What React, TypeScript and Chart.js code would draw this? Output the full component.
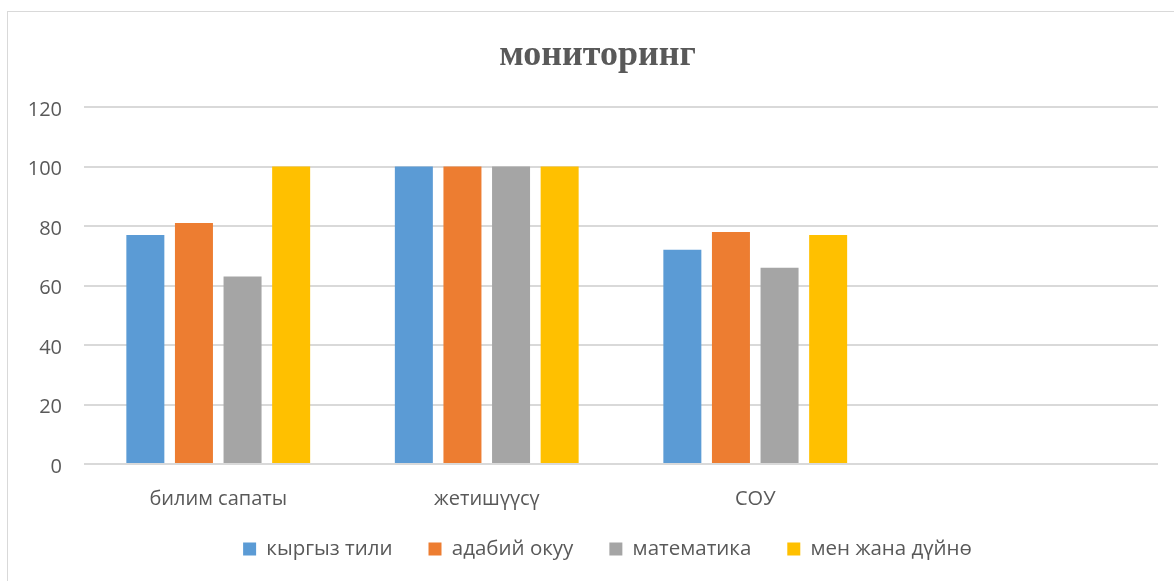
import React, { useEffect, useRef } from "react";
import { Chart, registerables } from "chart.js";

Chart.register(...registerables);

const categories = ["билим сапаты", "жетишүүсү", "СОУ", ""];
const seriesNames = ["кыргыз тили", "адабий окуу", "математика", "мен жана дүйнө"];
const kyrgyzTili = [77, 100, 72, null];
const adabiyOkuu = [81, 100, 78, null];
const matematika = [63, 100, 66, null];
const menJanaDuino = [100, 100, 77, null];
const seriesColors = ["#5B9BD5", "#ED7D31", "#A5A5A5", "#FFC000"];
const yTicks = { min: 0, max: 120, step: 20 };
const titleText = "мониторинг";

const FONT = "'Open Sans', 'Noto Sans', sans-serif";
const TEXT = "#595959";

const shiftBoxes = {
  id: "shiftBoxes",
  afterLayout(chart: any) {
    const t = chart.titleBlock;
    if (t) {
      t.left += 18.5;
      t.right += 18.5;
    }
    const l = chart.legend;
    if (l) {
      l.left += 28.5;
      l.right += 28.5;
      l.top -= 9.25;
      l.bottom -= 9.25;
    }
  },
};

export default function App() {
  const ref = useRef<HTMLCanvasElement | null>(null);
  useEffect(() => {
    if (!ref.current) return;
    const values = [kyrgyzTili, adabiyOkuu, matematika, menJanaDuino];
    const chart = new Chart(ref.current, {
      type: "bar",
      data: {
        labels: categories,
        datasets: seriesNames.map((name, i) => ({
          label: name,
          data: values[i] as any,
          backgroundColor: seriesColors[i],
          borderWidth: 0,
          categoryPercentage: 0.724,
          barPercentage: 0.782,
        })),
      },
      options: {
        responsive: false,
        animation: false,
        layout: { padding: { left: 0, right: 16, top: 0, bottom: 2.5 } },
        plugins: {
          tooltip: { enabled: false },
          title: {
            display: true,
            text: titleText,
            color: TEXT,
            font: { family: "'Liberation Serif', 'DejaVu Serif', serif", size: 36, weight: "bold" },
            padding: { top: 34, bottom: 29.8 },
          },
          legend: {
            position: "bottom",
            labels: {
              color: TEXT,
              font: { family: FONT, size: 20.5 },
              boxWidth: 13,
              boxHeight: 13,
              padding: 36,
            },
          },
        },
        scales: {
          x: {
            grid: { display: false, drawTicks: false },
            border: { display: false },
            ticks: { color: TEXT, font: { family: FONT, size: 20 }, padding: 23, maxRotation: 0, autoSkip: false },
            afterFit: (s: any) => {
              s.height = 48;
            },
          },
          y: {
            min: yTicks.min,
            max: yTicks.max,
            grid: { color: "#D9D9D9", lineWidth: 2, drawTicks: false },
            border: { display: false },
            ticks: {
              stepSize: yTicks.step,
              color: TEXT,
              font: { family: FONT, size: 20 },
              padding: 22,
              labelOffset: 3,
            },
            afterFit: (s: any) => {
              s.width = 84;
            },
          },
        },
      },
      plugins: [shiftBoxes],
    });
    return () => chart.destroy();
  }, []);

  return (
    <div style={{ position: "fixed", left: 0, top: 0, width: 1174, height: 581, overflow: "hidden", background: "#fff" }}>
      <div
        style={{
          position: "absolute",
          left: 7,
          top: 11,
          width: 1300,
          height: 700,
          border: "1px solid #D9D9D9",
        }}
      />
      <canvas ref={ref} width={1174} height={581} style={{ position: "absolute", left: 0, top: 0 }} />
    </div>
  );
}
